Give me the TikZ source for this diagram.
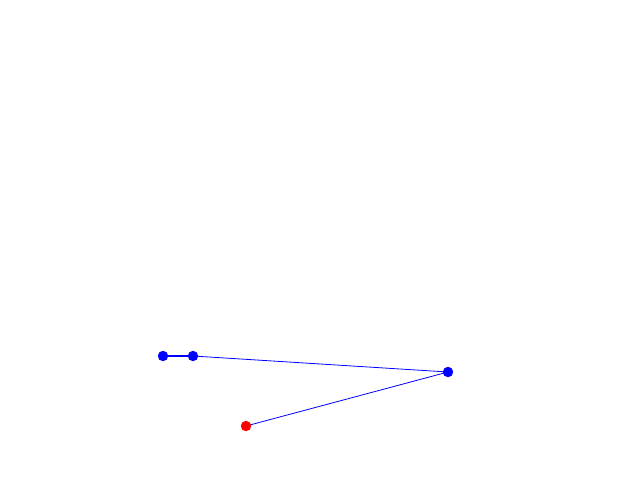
\documentclass[tikz,border=0pt]{standalone}
\pgfdeclarelayer{bg}
\pgfsetlayers{bg,main}
\begin{document}
\begin{tikzpicture}[x=0.75pt,y=-0.75pt,
  dotblue/.style={circle,fill=blue,inner sep=0pt,minimum size=7.8pt},
  dotred/.style={circle,fill=red,inner sep=0pt,minimum size=7.8pt},
  link/.style={draw=blue,line width=0.6pt}]
\useasboundingbox (0,0) rectangle (640,480);
\node[dotblue] (a) at (163,356) {};
\node[dotblue] (b) at (193,356) {};
\node[dotblue] (c) at (448,372) {};
\node[dotred] (d) at (246,426) {};
\begin{pgfonlayer}{bg}
\fill[white] (0,0) rectangle (640,480);
\draw[link,line width=1.1pt] (a.center) -- (b.center);
\draw[link] (b.center) -- (c.center) -- (d.center);
\end{pgfonlayer}
\end{tikzpicture}
\end{document}
